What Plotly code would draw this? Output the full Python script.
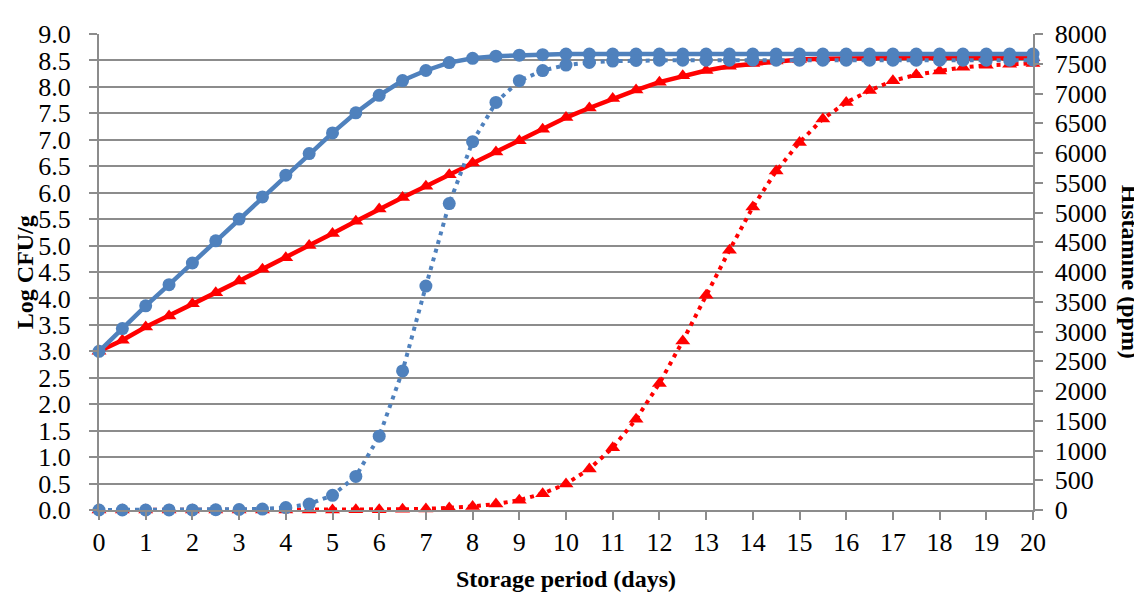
import plotly.graph_objects as go

days = [i * 0.5 for i in range(41)]

cfu_blue = [3.00, 3.43, 3.86, 4.26, 4.67, 5.09, 5.50, 5.92, 6.33, 6.74,
            7.13, 7.51, 7.84, 8.12, 8.31, 8.46, 8.54, 8.58, 8.60, 8.61] + [8.62] * 21

cfu_red = [3.00, 3.21, 3.46, 3.67, 3.90, 4.11, 4.33, 4.55, 4.77, 5.00,
           5.23, 5.46, 5.69, 5.91, 6.12, 6.34, 6.56, 6.77, 6.98, 7.20,
           7.42, 7.60, 7.78, 7.94, 8.09, 8.21, 8.31, 8.39, 8.44, 8.49,
           8.52, 8.53, 8.54] + [8.55] * 8

hist_blue = [0, 0, 0, 1, 2, 4, 8, 16, 40, 100,
             247, 565, 1240, 2337, 3763, 5150, 6190, 6850, 7215, 7385,
             7478, 7523, 7545, 7555] + [7560] * 17

hist_red = [0] * 10 + [2, 4, 6, 12, 18, 33, 60, 100, 165, 275,
                       438, 690, 1047, 1525, 2128, 2841, 3610, 4367, 5091, 5696,
                       6178, 6573, 6848, 7050, 7215, 7314, 7380, 7440, 7473, 7490, 7506]

x_ticks = list(range(0, 21))
left_ticks = [i * 0.5 for i in range(19)]
right_ticks = list(range(0, 8001, 500))

BLUE = "#4F81BD"
RED = "#FF0000"
GRID = "#8C8C8C"
FONT = "Liberation Serif, Times New Roman, Times, serif"
NB = "\u00a0"

fig = go.Figure()

fig.add_trace(go.Scatter(x=days, y=hist_red, yaxis="y2", mode="lines+markers",
                         line=dict(color=RED, width=4, dash="4px,5px"),
                         marker=dict(symbol="triangle-up", size=13, color=RED),
                         cliponaxis=False, showlegend=False))
fig.add_trace(go.Scatter(x=days, y=hist_blue, yaxis="y2", mode="lines+markers",
                         line=dict(color=BLUE, width=4, dash="4px,5px"),
                         marker=dict(symbol="circle", size=13, color=BLUE),
                         cliponaxis=False, showlegend=False))
fig.add_trace(go.Scatter(x=days, y=cfu_red, mode="lines+markers",
                         line=dict(color=RED, width=4.5),
                         marker=dict(symbol="triangle-up", size=13, color=RED),
                         cliponaxis=False, showlegend=False))
fig.add_trace(go.Scatter(x=days, y=cfu_blue, mode="lines+markers",
                         line=dict(color=BLUE, width=4.5),
                         marker=dict(symbol="circle", size=13, color=BLUE),
                         cliponaxis=False, showlegend=False))

fig.update_layout(
    width=1134, height=584,
    margin=dict(l=91, r=109, t=15, b=82),
    paper_bgcolor="white", plot_bgcolor="white",
    font=dict(family=FONT, size=24, color="black"),
    xaxis=dict(range=[0, 20], tickvals=x_ticks, ticktext=[str(v) for v in x_ticks],
               showgrid=False, zeroline=False,
               showline=True, linecolor=GRID, linewidth=2,
               ticks="outside", ticklen=8, tickcolor=GRID, tickwidth=2,
               tickfont=dict(family=FONT, size=26)),
    yaxis=dict(range=[0, 9], tickvals=left_ticks,
               ticktext=[f"{v:.1f}" + NB * 2 for v in left_ticks],
               showgrid=True, gridcolor=GRID, gridwidth=2, zeroline=False,
               showline=True, linecolor=GRID, linewidth=2,
               ticks="outside", ticklen=8, tickcolor=GRID, tickwidth=2,
               tickfont=dict(family=FONT, size=26)),
    yaxis2=dict(range=[0, 8000], tickvals=right_ticks,
                ticktext=[NB + str(v) for v in right_ticks],
                overlaying="y", side="right", showgrid=False, zeroline=False,
                showline=True, linecolor=GRID, linewidth=2,
                ticks="outside", ticklen=8, tickcolor=GRID, tickwidth=2,
                tickfont=dict(family=FONT, size=26)),
    annotations=[
        dict(text="<b>Storage period (days)</b>", xref="paper", yref="paper",
             x=0.5, y=-0.144, xanchor="center", yanchor="middle", showarrow=False,
             font=dict(family=FONT, size=24)),
        dict(text="<b>Log CFU/g</b>", xref="paper", yref="paper",
             x=-0.079, y=0.5, xanchor="center", yanchor="middle", showarrow=False,
             textangle=-90, font=dict(family=FONT, size=24)),
        dict(text="<b>Histamine (ppm)</b>", xref="paper", yref="paper",
             x=1.104, y=0.5, xanchor="center", yanchor="middle", showarrow=False,
             textangle=90, font=dict(family=FONT, size=24)),
    ],
)

fig.write_html("out.html")
